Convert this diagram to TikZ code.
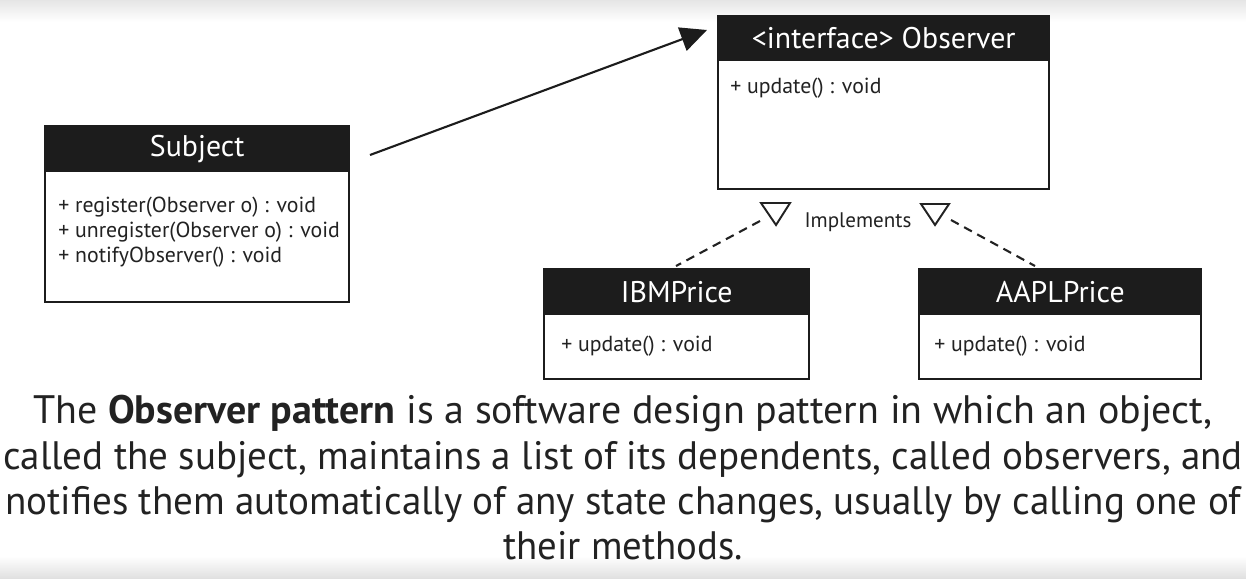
\documentclass[tikz,border=0pt]{standalone}
\usepackage{fontspec}
\setmainfont{PT Sans}
\usetikzlibrary{arrows.meta,calc}
\definecolor{hdr}{HTML}{1C1C1C}
\definecolor{ink}{HTML}{222222}
\tikzset{
  hdrbox/.style={draw=hdr,fill=hdr,line width=1.4pt,inner sep=0pt,anchor=north west,text=white,font=\fontsize{17}{19}\selectfont},
  bodybox/.style={draw=hdr,fill=white,line width=1.4pt,inner sep=0pt,anchor=north west},
  meth/.style={anchor=west,inner sep=0pt,text=ink,align=left,font=\fontsize{12.4}{14.3}\selectfont},
  assoc/.style={draw=hdr,line width=1.2pt,-{Triangle[length=15pt,width=14pt]}},
  realize/.style={draw=ink,line width=1.2pt,dash pattern=on 5pt off 3.5pt},
  hollow/.style={draw=ink,line width=1.1pt,fill=white,line join=miter},
}
\newcommand{\fitline}[2]{\resizebox{#1}{\height}{#2}}
\begin{document}
\begin{tikzpicture}[x=0.02cm,y=-0.02cm]
\useasboundingbox (0,0) rectangle (1246,578);
\shade[top color=black!10,bottom color=white] (0,0) rectangle (1246,22);
\shade[top color=white,bottom color=black!12] (0,556) rectangle (1246,578);
% Subject
\node[bodybox,minimum width=6.08cm,minimum height=2.62cm] (subjB) at (44,170) {};
\node[hdrbox,minimum width=6.08cm,minimum height=0.9cm] (subjH) at (44,125) {Subject};
\node[meth] (subjM) at (58,232) {+ register(Observer o) : void\\+ unregister(Observer o) : void\\+ notifyObserver() : void};
% Observer
\node[bodybox,minimum width=6.62cm,minimum height=2.58cm] (obsB) at (717,59) {};
\node[hdrbox,minimum width=6.62cm,minimum height=0.88cm] (obsH) at (717,15) {<interface> Observer};
\node[meth] (obsM) at (730,88) {+ update() : void};
% IBMPrice
\node[bodybox,minimum width=5.3cm,minimum height=1.3cm] (ibmB) at (543,313) {};
\node[hdrbox,minimum width=5.3cm,minimum height=0.9cm] (ibmH) at (543,268) {IBMPrice};
\node[meth] (ibmM) at (561,346) {+ update() : void};
% AAPLPrice
\node[bodybox,minimum width=5.64cm,minimum height=1.3cm] (aaplB) at (918,313) {};
\node[hdrbox,minimum width=5.64cm,minimum height=0.9cm] (aaplH) at (918,268) {AAPLPrice};
\node[meth] (aaplM) at (934,346) {+ update() : void};
% association arrow
\coordinate (a1) at (370,155);
\coordinate (a2) at (707,30);
\draw[assoc] (a1) -- (a2);
% realization
\coordinate (t1l) at (761,203); \coordinate (t1r) at (790,203); \coordinate (t1b) at (776,225);
\coordinate (t2l) at (921,204); \coordinate (t2r) at (949,204); \coordinate (t2b) at (935,225);
\coordinate (d1a) at (760,221); \coordinate (d1b) at (676,266);
\coordinate (d2a) at (951,220); \coordinate (d2b) at (1035,266);
\draw[realize] (d1a) -- (d1b);
\draw[realize] (d2a) -- (d2b);
\draw[hollow] (t1l) -- (t1r) -- (t1b) -- cycle;
\draw[hollow] (t2l) -- (t2r) -- (t2b) -- cycle;
\node[text=ink,font=\fontsize{12}{14}\selectfont,inner sep=0pt] (impl) at (858,222) {Implements};
% paragraph
\node[text=ink,align=center,inner sep=0pt,font=\fontsize{22.6}{25.8}\selectfont] (para) at (623,478)
{\fitline{23.6cm}{The \textbf{Observer pattern} is a software design pattern in which an object,}\\
\fitline{24.8cm}{called the subject, maintains a list of its dependents, called observers, and}\\
\fitline{24.72cm}{notifies them automatically of any state changes, usually by calling one of}\\
\fitline{4.8cm}{their methods.}};
\end{tikzpicture}
\end{document}
